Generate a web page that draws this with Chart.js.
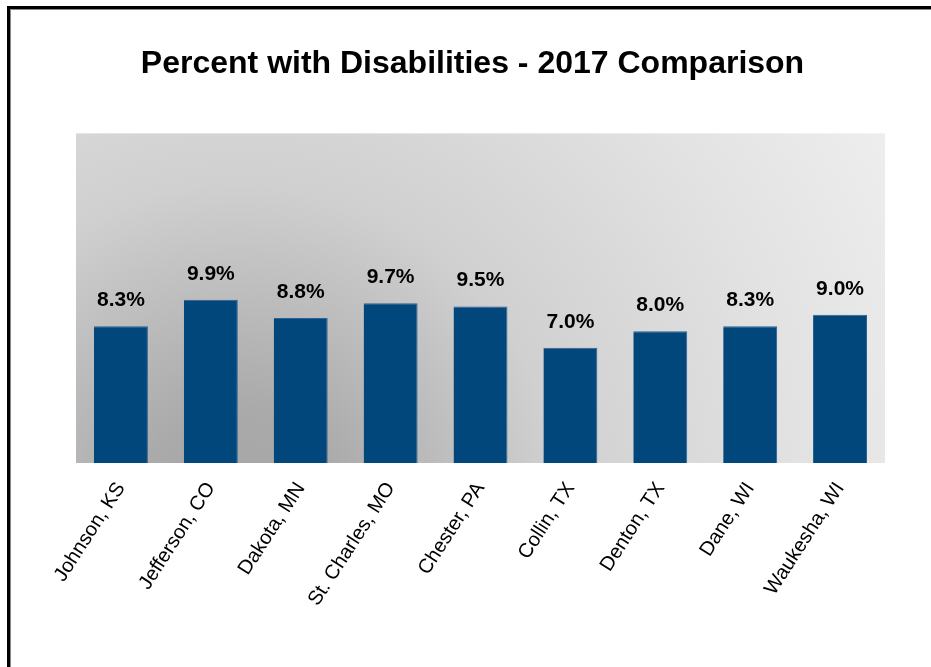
<!DOCTYPE html>
<html>
<head>
<meta charset="utf-8">
<script src="https://cdn.jsdelivr.net/npm/chart.js@4"></script>
<style>
  html, body { margin: 0; padding: 0; background: #fff; }
  .wrap { position: relative; width: 931px; height: 667px; overflow: hidden; }
  .wrap canvas { position: absolute; left: 0; top: 0; }
  .frame {
    position: absolute; left: 7px; top: 6px; width: 1000px; height: 1000px;
    border-left: 3px solid #000; border-top: 3px solid #000;
    box-shadow: inset 1px 1px 0 #888; pointer-events: none;
  }
</style>
</head>
<body>
<div class="wrap">
  <canvas id="chartDisab" width="931" height="667"></canvas>
  <div class="frame"></div>
</div>
<script>
// ── DATA ──────────────────────────────────────────────────────
const COUNTIES = ['Johnson, KS', 'Jefferson, CO', 'Dakota, MN', 'St. Charles, MO', 'Chester, PA',
                  'Collin, TX', 'Denton, TX', 'Dane, WI', 'Waukesha, WI'];
const PCT_DISABLED = [8.3, 9.9, 8.8, 9.7, 9.5, 7.0, 8.0, 8.3, 9.0];
const Y_MIN = 0;
const Y_MAX = 20;

const COLORS = { bar: '#02477c', barEdge: '#2a6294', text: '#000', bgDark: '#a6a6a6', bgLight: '#f1f1f1' };
const FONT = "'Liberation Sans', Arial, sans-serif";

// ── PLOT BACKGROUND (corner gradient) ─────────────────────────
const plotBg = {
  id: 'plotBg',
  beforeDraw(chart) {
    const { ctx, chartArea: a } = chart;
    const cx = a.left + (a.right - a.left) * 0.2, cy = a.bottom + 40;
    const g = ctx.createRadialGradient(cx, cy, 0, cx, cy, 800);
    g.addColorStop(0, COLORS.bgDark);
    g.addColorStop(0.12, '#aaaaaa');
    g.addColorStop(0.4, '#d0d0d0');
    g.addColorStop(0.7, '#e2e2e2');
    g.addColorStop(1, COLORS.bgLight);
    ctx.save();
    ctx.fillStyle = g;
    ctx.fillRect(a.left, a.top, a.right - a.left, a.bottom - a.top);
    ctx.restore();
  }
};

// ── VALUE LABELS ABOVE BARS ───────────────────────────────────
const valueLabels = {
  id: 'valueLabels',
  afterDatasetsDraw(chart) {
    const { ctx } = chart;
    const meta = chart.getDatasetMeta(0);
    ctx.save();
    ctx.font = `bold 21px ${FONT}`;
    ctx.fillStyle = COLORS.text;
    ctx.textAlign = 'center';
    ctx.textBaseline = 'alphabetic';
    meta.data.forEach((bar, i) => {
      ctx.fillText(PCT_DISABLED[i].toFixed(1) + '%', bar.x, bar.y - 20);
    });
    ctx.restore();
  }
};

new Chart(document.getElementById('chartDisab'), {
  type: 'bar',
  data: {
    labels: COUNTIES,
    datasets: [{
      data: PCT_DISABLED,
      backgroundColor: COLORS.bar,
      borderColor: COLORS.barEdge,
      borderWidth: { top: 1, left: 0, right: 1, bottom: 0 },
      categoryPercentage: 0.6,
      barPercentage: 1,
    }]
  },
  options: {
    responsive: false,
    animation: false,
    layout: { padding: { left: 60, right: 46, top: 0, bottom: 0 } },
    plugins: {
      legend: { display: false },
      tooltip: { enabled: false },
      title: {
        display: true,
        text: 'Percent with Disabilities - 2017 Comparison',
        color: COLORS.text,
        font: { family: FONT, size: 32, weight: 'bold' },
        padding: { top: 45, bottom: 50 },
      }
    },
    scales: {
      x: {
        grid: { display: false },
        border: { display: false },
        ticks: {
          color: COLORS.text, autoSkip: false,
          minRotation: 57, maxRotation: 57, padding: 7,
          font: { family: FONT, size: 20 },
        },
        afterFit: s => { s.height = 204; }
      },
      y: {
        min: Y_MIN, max: Y_MAX,
        grid: { display: false },
        border: { display: false },
        ticks: { display: false },
        afterFit: s => { s.width = 16; }
      }
    }
  },
  plugins: [plotBg, valueLabels]
});
</script>
</body>
</html>
